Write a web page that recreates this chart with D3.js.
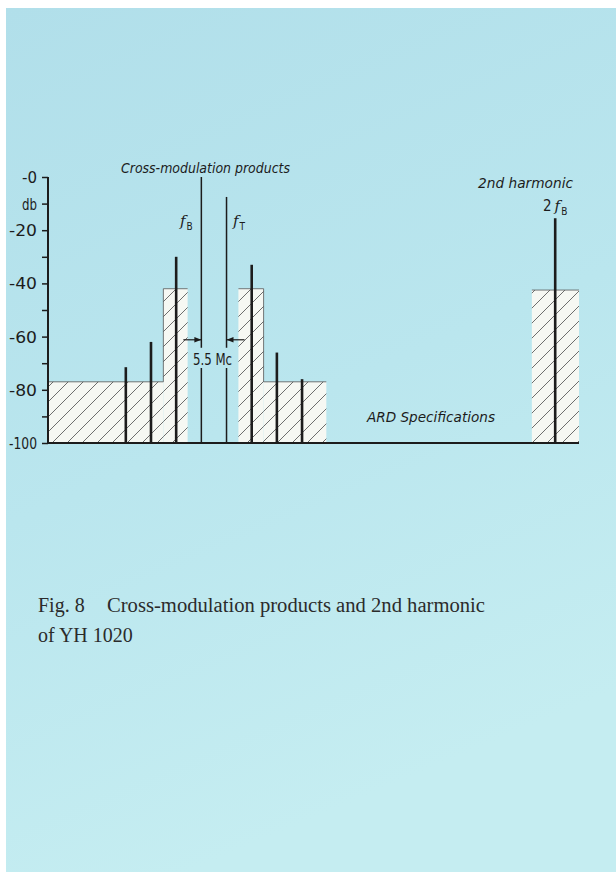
<!DOCTYPE html>
<html>
<head>
<meta charset="utf-8">
<script src="https://cdn.jsdelivr.net/npm/d3@7"></script>
<style>
  body { margin: 0; background: #ffffff; }
  svg { display: block; }
</style>
</head>
<body>
<script>
// data (frequency in Mc relative to fB, level in db)
var yTicks = [0, -10, -20, -30, -40, -50, -60, -70, -80, -90, -100];
var yTickLabels = ["-0", "db", "-20", "", "-40", "", "-60", "", "-80", "", "-100"];

// ARD specification mask (hatched blocks)
var specStart = [-33.5, -8.3, 8.1, 13.6, 72.2];
var specEnd = [-8.3, -3.0, 13.6, 27.3, 82.5];
var specLevel = [-77, -42, -42, -77, -42.5];

// cross-modulation products and 2nd harmonic
var prodFreq = [-16.5, -11, -5.5, 11, 16.5, 22, 77.3];
var prodLevel = [-71.5, -62, -30, -33, -66, -76, -15.5];

// carriers fB and fT
var carrierFreq = [0, 5.5];
var carrierLevel = [0, -7.5];
var carrierGap = [-64.2, -71.8];   // break in the lines for the "5.5 Mc" label
var arrowLevel = -61.2;

var width = 616;
var height = 872;

var svg = d3.select("body")
    .append("svg")
    .attr("width", width)
    .attr("height", height);

var defs = svg.append("defs");

// paper background
var grad = defs.append("linearGradient")
    .attr("id", "paper")
    .attr("x1", 0).attr("y1", 0)
    .attr("x2", 0.3).attr("y2", 1);
grad.append("stop").attr("offset", "0%").attr("stop-color", "#b1dfea");
grad.append("stop").attr("offset", "55%").attr("stop-color", "#bae6ee");
grad.append("stop").attr("offset", "100%").attr("stop-color", "#c5edf1");

svg.append("rect")
    .attr("x", 6).attr("y", 8)
    .attr("width", width - 6).attr("height", height - 8)
    .attr("fill", "url(#paper)");

// hatch pattern
var pat = defs.append("pattern")
    .attr("id", "hatch")
    .attr("patternUnits", "userSpaceOnUse")
    .attr("width", 15).attr("height", 15);
pat.append("rect").attr("width", 15).attr("height", 15).attr("fill", "#f6f8f3");
pat.append("path")
    .attr("d", "M-1,16 L16,-1 M-4,4 L4,-4 M11,19 L19,11")
    .attr("stroke", "#4a4a4a")
    .attr("stroke-width", 0.8);

defs.append("marker")
    .attr("id", "arrow")
    .attr("viewBox", "0 0 10 10")
    .attr("refX", 10).attr("refY", 5)
    .attr("markerWidth", 10).attr("markerHeight", 7)
    .attr("markerUnits", "userSpaceOnUse")
    .attr("orient", "auto")
    .append("path")
    .attr("d", "M0,1 L10,5 L0,9 Z")
    .attr("fill", "#1a1a1a");

// scales
var xscale = d3.scaleLinear()
    .domain([-33.5, 82.5])
    .range([48, 579]);

var yscale = d3.scaleLinear()
    .domain([0, -100])
    .range([177, 443]);

var ink = "#1c1c1c";
var sans = "'DejaVu Sans Condensed', 'Liberation Sans Narrow', 'DejaVu Sans', sans-serif";

// hatched mask
svg.append("g")
    .selectAll("rect")
    .data(specLevel)
    .enter()
    .append("rect")
    .attr("x", function (d, i) { return xscale(specStart[i]); })
    .attr("y", function (d) { return yscale(d); })
    .attr("width", function (d, i) { return xscale(specEnd[i]) - xscale(specStart[i]); })
    .attr("height", function (d) { return yscale(-100) - yscale(d); })
    .attr("fill", "url(#hatch)");

// outline of the mask tops
var outline = d3.line()
    .x(function (d) { return xscale(d[0]); })
    .y(function (d) { return yscale(d[1]); });

var leftPts = [[specStart[0], specLevel[0]], [specEnd[0], specLevel[0]], [specEnd[0], specLevel[1]], [specEnd[1], specLevel[1]]];
var rightPts = [[specStart[2], specLevel[2]], [specEnd[2], specLevel[2]], [specEnd[2], specLevel[3]], [specEnd[3], specLevel[3]]];
var harmPts = [[specStart[4], specLevel[4]], [specEnd[4], specLevel[4]]];
[leftPts, rightPts, harmPts].forEach(function (p) {
    svg.append("path")
        .attr("d", outline(p))
        .attr("fill", "none")
        .attr("stroke", "#555")
        .attr("stroke-width", 0.8);
});

// baseline -100 db
svg.append("line")
    .attr("x1", xscale(-33.5)).attr("x2", xscale(82.5))
    .attr("y1", yscale(-100)).attr("y2", yscale(-100))
    .attr("stroke", ink)
    .attr("stroke-width", 2);

// y axis
var y_axis = d3.axisLeft()
    .scale(yscale)
    .tickValues(yTicks)
    .tickSize(6)
    .tickPadding(5)
    .tickFormat(function (d, i) { return yTickLabels[i]; });

var gy = svg.append("g")
    .attr("transform", "translate(48,0)")
    .call(y_axis);

gy.select(".domain").attr("stroke", ink).attr("stroke-width", 2).attr("d", "M0," + yscale(0) + "V" + yscale(-100));
gy.selectAll(".tick line").attr("stroke", ink).attr("stroke-width", 1.5);
gy.selectAll(".tick text")
    .attr("fill", ink)
    .style("font-family", sans)
    .style("font-size", "15px")
    .attr("dy", "0.36em")
    .attr("textLength", function (d, i) {
        var s = yTickLabels[i];
        return s.length ? (s.length === 4 ? 28 : s.length === 3 ? 28 : 15) : null;
    })
    .attr("lengthAdjust", "spacingAndGlyphs");

// product lines
svg.append("g")
    .selectAll("line")
    .data(prodLevel)
    .enter()
    .append("line")
    .attr("x1", function (d, i) { return xscale(prodFreq[i]); })
    .attr("x2", function (d, i) { return xscale(prodFreq[i]); })
    .attr("y1", function (d) { return yscale(d); })
    .attr("y2", yscale(-100))
    .attr("stroke", ink)
    .attr("stroke-width", 2.6);

// carrier lines, broken around the spacing label
carrierLevel.forEach(function (lv, i) {
    var x = xscale(carrierFreq[i]);
    svg.append("line")
        .attr("x1", x).attr("x2", x)
        .attr("y1", yscale(lv)).attr("y2", yscale(carrierGap[0]))
        .attr("stroke", ink).attr("stroke-width", 1.5);
    svg.append("line")
        .attr("x1", x).attr("x2", x)
        .attr("y1", yscale(carrierGap[1])).attr("y2", yscale(-100))
        .attr("stroke", ink).attr("stroke-width", 1.5);
});

// spacing arrows
svg.append("line")
    .attr("x1", xscale(carrierFreq[0]) - 18).attr("x2", xscale(carrierFreq[0]))
    .attr("y1", yscale(arrowLevel)).attr("y2", yscale(arrowLevel))
    .attr("stroke", ink).attr("stroke-width", 1.2)
    .attr("marker-end", "url(#arrow)");
svg.append("line")
    .attr("x1", xscale(carrierFreq[1]) + 18).attr("x2", xscale(carrierFreq[1]))
    .attr("y1", yscale(arrowLevel)).attr("y2", yscale(arrowLevel))
    .attr("stroke", ink).attr("stroke-width", 1.2)
    .attr("marker-end", "url(#arrow)");

// labels
function label(txt, x, y, w, size, italic) {
    svg.append("text")
        .attr("x", x).attr("y", y)
        .attr("textLength", w)
        .attr("lengthAdjust", "spacingAndGlyphs")
        .attr("fill", ink)
        .style("font-family", sans)
        .style("font-size", size + "px")
        .style("font-style", italic ? "oblique" : "normal")
        .text(txt);
}

label("Cross-modulation products", 121, 173, 169, 14, true);
label("2nd harmonic", 478, 188, 95, 14, true);
label("ARD Specifications", 367, 422, 128, 14, true);
label("5.5 Mc", 193, 365, 39, 16, false);

// f_B, f_T and 2f_B
function freqLabel(pre, sub, x, y) {
    var t = svg.append("text")
        .attr("x", x).attr("y", y)
        .attr("fill", ink)
        .style("font-family", sans)
        .style("font-size", "15px");
    if (pre) t.append("tspan").text(pre);
    t.append("tspan").text("f")
        .style("font-style", "italic")
        .style("font-family", "'DejaVu Serif', serif")
        .attr("dx", pre ? 3 : 0);
    t.append("tspan").text(sub).attr("dy", 4).attr("dx", 1).style("font-size", "10px");
}
freqLabel("", "B", 180, 226);
freqLabel("", "T", 233, 226);
freqLabel("2", "B", 543, 211);

// caption
var serif = "'Liberation Serif', 'Times New Roman', serif";
svg.append("text")
    .attr("x", 38).attr("y", 612)
    .attr("fill", "#2b2b2b")
    .style("font-family", serif)
    .style("font-size", "20px")
    .text("Fig. 8");
svg.append("text")
    .attr("x", 107).attr("y", 612)
    .attr("textLength", 378)
    .attr("lengthAdjust", "spacingAndGlyphs")
    .attr("fill", "#2b2b2b")
    .style("font-family", serif)
    .style("font-size", "20px")
    .text("Cross-modulation products and 2nd harmonic");
svg.append("text")
    .attr("x", 38).attr("y", 642)
    .attr("fill", "#2b2b2b")
    .style("font-family", serif)
    .style("font-size", "20px")
    .text("of YH 1020");
</script>
</body>
</html>
